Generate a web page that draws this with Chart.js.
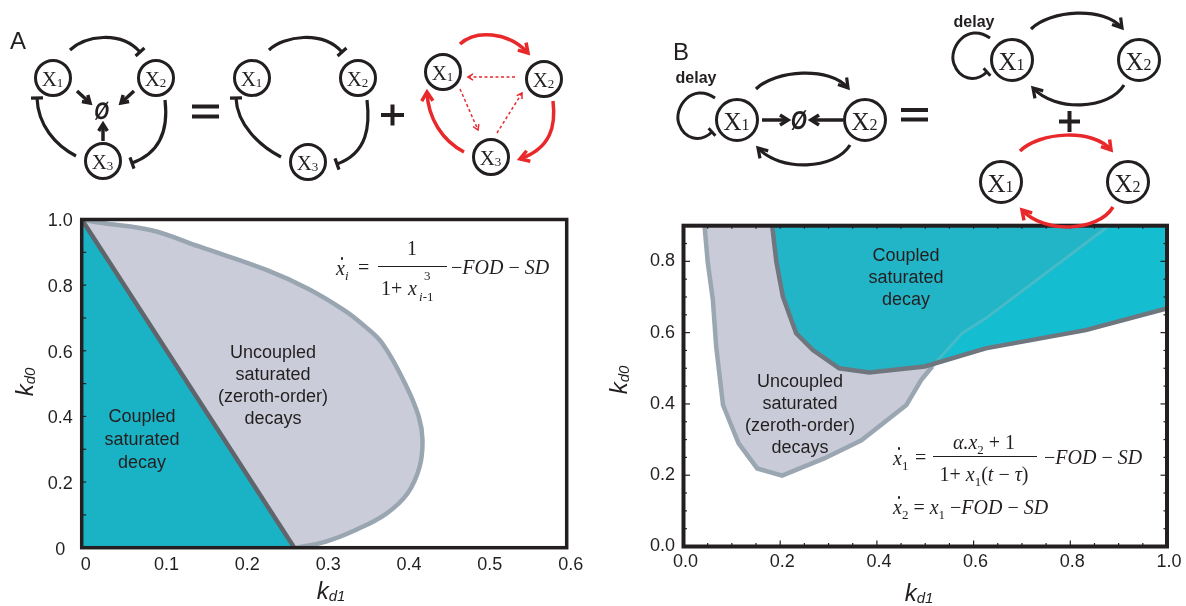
<!DOCTYPE html>
<html><head><meta charset="utf-8">
<script src="https://cdn.jsdelivr.net/npm/chart.js@4.4.1/dist/chart.umd.min.js"></script>
<style>
html,body{margin:0;padding:0;background:#fff;}
#wrap{position:relative;width:1186px;height:606px;overflow:hidden;background:#fff;}
canvas{position:absolute;left:0;top:0;}
.lbl{position:absolute;transform:translate(-50%,-50%);font-family:"Liberation Sans",Arial,sans-serif;font-size:18px;color:#231f20;text-align:center;white-space:nowrap;}
.ax{position:absolute;transform:translate(-50%,-50%);font-family:"Liberation Sans",Arial,sans-serif;font-style:italic;color:#231f20;white-space:nowrap;line-height:1;}
.ax .k{font-size:24px}
.ax .s{font-size:15px;position:relative;top:2px}
.m{position:absolute;font-family:"Liberation Serif","Times New Roman",serif;font-size:20px;color:#231f20;white-space:nowrap;transform:translateY(-50%);line-height:1}
.mc{transform:translate(-50%,-50%)}
.m i{font-style:italic}
.dx{position:relative;font-style:italic}
.dx::after{content:'';position:absolute;left:0.24em;top:0.02em;width:2.4px;height:2.4px;border-radius:50%;background:#231f20}
.sb{font-size:13px;position:relative;top:5px}
.bar{position:absolute;height:1.2px;background:#231f20}
#svg{position:absolute;left:0;top:0}
</style></head>
<body>
<div id="wrap">
<canvas id="cA" width="1186" height="606"></canvas>
<canvas id="cB" width="1186" height="606"></canvas>
<svg id="svg" width="1186" height="606"></svg>

<div class="lbl" style="left:142px;top:439px;line-height:23px">Coupled<br>saturated<br>decay</div>
<div class="lbl" style="left:273px;top:385px;line-height:22px">Uncoupled<br>saturated<br>(zeroth-order)<br>decays</div>
<div class="lbl" style="left:906px;top:277px;line-height:22px">Coupled<br>saturated<br>decay</div>
<div class="lbl" style="left:800px;top:414px;line-height:22px">Uncoupled<br>saturated<br>(zeroth-order)<br>decays</div>

<div class="ax" style="left:25px;top:382px;transform:translate(-50%,-50%) rotate(-90deg)"><span class="k">k</span><span class="s">d0</span></div>
<div class="ax" style="left:331px;top:591px"><span class="k">k</span><span class="s">d1</span></div>
<div class="ax" style="left:619px;top:380px;transform:translate(-50%,-50%) rotate(-90deg)"><span class="k">k</span><span class="s">d0</span></div>
<div class="ax" style="left:919px;top:593px"><span class="k">k</span><span class="s">d1</span></div>

<!-- equation A -->
<div class="m" style="left:336px;top:268px"><span class="dx">x</span><span class="sb"><i>i</i></span></div>
<div class="m" style="left:358px;top:267px">=</div>
<div class="m mc" style="left:412px;top:248px">1</div>
<div class="bar" style="left:378px;top:266px;width:69px"></div>
<div class="m" style="left:381px;top:288px">1+</div>
<div class="m" style="left:408px;top:288px"><i>x</i></div>
<div class="m" style="left:424px;top:275px;font-size:13px">3</div>
<div class="m" style="left:419px;top:296px;font-size:13px"><i>i</i>&#8209;1</div>
<div class="m" style="left:451px;top:267px">&minus;<i>FOD</i> &minus; <i>SD</i></div>

<!-- equation B -->
<div class="m" style="left:893px;top:458px"><span class="dx">x</span><span class="sb">1</span></div>
<div class="m" style="left:915px;top:457px">=</div>
<div class="m mc" style="left:984px;top:442px"><i>&alpha;.x</i><span class="sb">2</span> + 1</div>
<div class="bar" style="left:933px;top:456px;width:104px"></div>
<div class="m mc" style="left:984px;top:474px">1+ <i>x</i><span class="sb">1</span>(<i>t</i> &minus; <i>&tau;</i>)</div>
<div class="m" style="left:1044px;top:457px">&minus;<i>FOD</i> &minus; <i>SD</i></div>
<div class="m" style="left:893px;top:507px"><span class="dx">x</span><span class="sb">2</span> = <i>x</i><span class="sb">1</span> &minus;<i>FOD</i> &minus; <i>SD</i></div>
</div>

<script>
// ---------------- DATA ----------------
// Panel A: kd1 (x) vs kd0 (y)
const aTickK1 = [0, 0.1, 0.2, 0.3, 0.4, 0.5, 0.6];
const aTickK1Labels = ['0', '0.1', '0.2', '0.3', '0.4', '0.5', '0.6'];
const aTickK0 = [0, 0.2, 0.4, 0.6, 0.8, 1.0];
const aTickK0Labels = ['0', '0.2', '0.4', '0.6', '0.8', '1.0'];
const aMarkK0 = [0.1, 0.2, 0.3, 0.4, 0.5, 0.6, 0.7, 0.8, 0.9];
// uncoupled (zeroth-order) region outer boundary
const aLavK1 = [0, 0.023, 0.085, 0.146, 0.230, 0.280, 0.325, 0.350, 0.372, 0.400, 0.417, 0.4216, 0.418, 0.403, 0.377, 0.339, 0.301, 0.266];
const aLavK0 = [1.0, 0.990, 0.968, 0.917, 0.845, 0.789, 0.723, 0.675, 0.622, 0.500, 0.399, 0.328, 0.246, 0.165, 0.104, 0.054, 0.018, 0];
// coupled saturated region (triangle) and its boundary
const aCplK1 = [0, 0.263, 0];
const aCplK0 = [1.0, 0, 0];
const aDiagK1 = [0, 0.263];
const aDiagK0 = [1.0, 0];

// Panel B
const bTickK1 = [0, 0.2, 0.4, 0.6, 0.8, 1.0];
const bTickK1Labels = ['0.0', '0.2', '0.4', '0.6', '0.8', '1.0'];
const bTickK0 = [0, 0.2, 0.4, 0.6, 0.8];
const bTickK0Labels = ['0.0', '0.2', '0.4', '0.6', '0.8'];
const bMarkK1 = [0.05,0.1,0.15,0.2,0.25,0.3,0.35,0.4,0.45,0.5,0.55,0.6,0.65,0.7,0.75,0.8,0.85,0.9,0.95];
const bMarkK0 = [0.05,0.1,0.15,0.2,0.25,0.3,0.35,0.4,0.45,0.5,0.55,0.6,0.65,0.7,0.75,0.8,0.85];
const bMajorK1 = [0.2, 0.4, 0.6, 0.8];
const bMajorK0 = [0.2, 0.4, 0.6, 0.8];
const bMaxK1 = 1.0, bMaxK0 = 0.9;
// uncoupled region outer boundary
const bLavK1 = [0.0435, 0.050, 0.0607, 0.0676, 0.0817, 0.114, 0.1525, 0.204, 0.291, 0.368, 0.461, 0.4915, 0.5146];
const bLavK0 = [0.9, 0.799, 0.692, 0.561, 0.397, 0.2895, 0.219, 0.199, 0.247, 0.298, 0.397, 0.467, 0.505];
// continuation of the uncoupled boundary inside the coupled region
const bSepK1 = [0.5146, 0.576, 0.625, 0.88];
const bSepK0 = [0.505, 0.598, 0.640, 0.9];
// coupled region boundary
const bCplK1 = [0.1834, 0.192, 0.2055, 0.233, 0.2676, 0.322, 0.384, 0.499, 0.625, 0.832, 1.0];
const bCplK0 = [0.9, 0.799, 0.701, 0.598, 0.551, 0.500, 0.488, 0.505, 0.556, 0.607, 0.668];

// ---------------- HELPERS ----------------
const pts = (xs, ys) => xs.map((v, i) => ({x: v, y: ys[i]}));
const INK = '#231f20';
const FONT = "'Liberation Sans', Arial, sans-serif";
const NONE = 'rgba(0,0,0,0)';

const frameTicks = {
  id: 'frameTicks',
  afterDatasetsDraw(chart, args, o) {
    const {ctx, chartArea: a, scales: {x, y}} = chart;
    ctx.save();
    ctx.strokeStyle = INK;
    ctx.lineWidth = 1.2;
    const seg = (x1, y1, x2, y2) => { ctx.beginPath(); ctx.moveTo(x1, y1); ctx.lineTo(x2, y2); ctx.stroke(); };
    (o.left || []).forEach(t => { const p = y.getPixelForValue(t[0]); seg(a.left, p, a.left + t[1], p); });
    (o.right || []).forEach(t => { const p = y.getPixelForValue(t[0]); seg(a.right, p, a.right - t[1], p); });
    (o.bottom || []).forEach(t => { const p = x.getPixelForValue(t[0]); seg(p, a.bottom, p, a.bottom - t[1]); });
    (o.top || []).forEach(t => { const p = x.getPixelForValue(t[0]); seg(p, a.top, p, a.top + t[1]); });
    ctx.lineWidth = o.frame;
    ctx.strokeRect(a.left, a.top, a.right - a.left, a.bottom - a.top);
    ctx.restore();
  }
};

function axis(min, max, vals, labels, tickOpts, extra) {
  return Object.assign({
    type: 'linear', min, max,
    afterBuildTicks: s => { s.ticks = vals.map(v => ({value: v})); },
    grid: {display: false, drawTicks: false, tickLength: 0}, border: {display: false},
    ticks: Object.assign({color: INK, font: {family: FONT, size: 18}, callback: (v, i) => labels[i]}, tickOpts)
  }, extra);
}
function ds(data, o) {
  return Object.assign({data, pointRadius: 0, tension: 0, clip: 0, fill: false, borderColor: NONE, backgroundColor: NONE, borderWidth: 1}, o);
}
const base = {responsive: false, animation: false, events: []};

// ---------------- CHART A ----------------
new Chart(document.getElementById('cA'), {
  type: 'line',
  data: {datasets: [
    ds(pts(aDiagK1, aDiagK0), {borderColor: '#5f656b', borderWidth: 4.5}),
    ds(pts(aLavK1, aLavK0), {borderColor: '#99a5b1', borderWidth: 4.5, tension: 0.4}),
    ds(pts(aCplK1, aCplK0), {fill: 'shape', backgroundColor: '#1ab3c5'}),
    ds(pts(aLavK1, aLavK0), {fill: 'shape', backgroundColor: '#cacdd9', tension: 0.4})
  ]},
  options: Object.assign({}, base, {
    layout: {padding: {left: 0, top: 219.5, right: 619.3, bottom: 0}},
    plugins: {legend: {display: false}, tooltip: {enabled: false},
      frameTicks: {frame: 3.5, left: aMarkK0.map(v => [v, 4.5])}},
    scales: {
      x: axis(0, 0.6, aTickK1, aTickK1Labels, {padding: 7, labelOffset: 4}, {afterFit: s => { s.height = 58.3; }}),
      y: axis(0, 1.0, aTickK0, aTickK0Labels, {padding: 9, crossAlign: 'center', labelOffset: 2}, {afterFit: s => { s.width = 81.7; }})
    }
  }),
  plugins: [frameTicks]
});

// ---------------- CHART B ----------------
const bMarksX = bMarkK1.map(v => [v, bMajorK1.includes(v) ? 6 : 3.5]);
const bMarksY = bMarkK0.map(v => [v, bMajorK0.includes(v) ? 6.5 : 3.5]);
new Chart(document.getElementById('cB'), {
  type: 'line',
  data: {datasets: [
    ds(pts(bCplK1, bCplK0), {borderColor: '#6f767e', borderWidth: 4.5}),
    ds(pts(bLavK1, bLavK0), {borderColor: '#9aa6b1', borderWidth: 4.5}),
    ds(pts(bSepK1, bSepK0), {borderColor: '#46bac8', borderWidth: 3}),
    ds([...pts(bCplK1, bCplK0).slice(0, 8), ...pts(bSepK1, bSepK0)], {fill: 'shape', backgroundColor: '#22b5c7'}),
    ds([...pts(bCplK1, bCplK0), {x: bMaxK1, y: bMaxK0}], {fill: 'shape', backgroundColor: '#14bdd0'}),
    ds([...pts(bLavK1, bLavK0), ...pts(bSepK1, bSepK0).slice(1)], {fill: 'shape', backgroundColor: '#c9ccd8'})
  ]},
  options: Object.assign({}, base, {
    layout: {padding: {left: 600, top: 225.7, right: 19, bottom: 0}},
    plugins: {legend: {display: false}, tooltip: {enabled: false},
      frameTicks: {frame: 4, left: bMarksY, right: bMarksY, bottom: bMarksX, top: bMarkK1.map(v => [v, 3])}},
    scales: {
      x: axis(0, bMaxK1, bTickK1, bTickK1Labels, {padding: 5, labelOffset: 2}, {afterFit: s => { s.height = 59.5; }}),
      y: axis(0, bMaxK0, bTickK0, bTickK0Labels, {padding: 8.5}, {afterFit: s => { s.width = 83.5; }})
    }
  }),
  plugins: [frameTicks]
});

// ---------------- NETWORK DIAGRAMS (SVG) ----------------
const S = [];
const RED = '#e8282b';
const add = (p, q) => [p[0] + q[0], p[1] + q[1]];
function head(p, t, type, col, w, s) {
  const L = Math.hypot(t[0], t[1]), ux = t[0] / L, uy = t[1] / L, px = -uy, py = ux;
  if (type === 'arrow') {
    const a = [p[0] - ux * s + px * s * 0.62, p[1] - uy * s + py * s * 0.62];
    const b = [p[0] - ux * s - px * s * 0.62, p[1] - uy * s - py * s * 0.62];
    S.push(`<path d="M${a} L${p} L${b}" fill="none" stroke="${col}" stroke-width="${w}" stroke-linejoin="miter" stroke-miterlimit="8"/>`);
  } else if (type === 'bar') {
    S.push(`<line x1="${p[0] + px * s}" y1="${p[1] + py * s}" x2="${p[0] - px * s}" y2="${p[1] - py * s}" stroke="${col}" stroke-width="${w}"/>`);
  }
}
function cub(a, b, c, d, type, col, w, s, dash) {
  S.push(`<path d="M${a} C${b} ${c} ${d}" fill="none" stroke="${col}" stroke-width="${w}" ${dash ? `stroke-dasharray="${dash}"` : ''}/>`);
  head(d, [d[0] - c[0], d[1] - c[1]], type, col, w, s);
}
function lin(a, b, type, col, w, s, dash) {
  S.push(`<line x1="${a[0]}" y1="${a[1]}" x2="${b[0]}" y2="${b[1]}" stroke="${col}" stroke-width="${w}" ${dash ? `stroke-dasharray="${dash}"` : ''}/>`);
  head(b, [b[0] - a[0], b[1] - a[1]], type, col, w, s);
}
function node(c, n, r, fs) {
  S.push(`<circle cx="${c[0]}" cy="${c[1]}" r="${r}" fill="#fff" stroke="${INK}" stroke-width="3"/>`);
  S.push(`<text x="${c[0] - 0.5}" y="${c[1] + 1}" font-family="Liberation Serif, Times New Roman, serif" font-size="${fs}" fill="${INK}" text-anchor="middle" dominant-baseline="central">X<tspan font-size="${Math.round(fs * 0.62)}" dy="${fs * 0.12}">${n}</tspan></text>`);
}
function txt(x, y, s, size, weight, extra) {
  S.push(`<text x="${x}" y="${y}" font-family="Liberation Sans, Arial, sans-serif" font-size="${size}" font-weight="${weight || 'normal'}" fill="${INK}" text-anchor="middle" dominant-baseline="central" ${extra || ''}>${s}</text>`);
}
const rect = (x, y, w, h) => S.push(`<rect x="${x}" y="${y}" width="${w}" height="${h}" fill="${INK}"/>`);
const empty = (x, y, size) => txt(0, 0, '&#216;', size, 'bold', `transform="translate(${x},${y}) scale(0.8,1) skewX(-8)"`);

// three-node ring
function ring(X1, X2, X3, col, type, hs) {
  const w = col === RED ? 3.5 : 3.2;
  cub(add(X1, [17, -28]), add(X1, [32, -42]), add(X2, [-36, -48]), add(X2, [-16, -26]), type, col, w, hs);
  cub(add(X2, [9, 22]), add(X2, [12, 47]), add(X3, [60, -9]), add(X3, [29, 2]), type, col, w, hs);
  cub(add(X3, [-27, -5]), add(X3, [-48, -16]), add(X1, [-15, 47]), add(X1, [-16, 20]), type, col, w, hs);
}
// A1
const A1 = [[53, 78], [156, 78], [103, 161]];
ring(A1[0], A1[1], A1[2], INK, 'bar', 6);
lin([77, 91], [90, 103], 'arrow', INK, 3.5, 7);
lin([134, 91], [121, 103], 'arrow', INK, 3.5, 7);
lin([103, 141], [103, 124], 'arrow', INK, 3.5, 7);
empty(102, 111, 24);
A1.forEach((c, i) => node(c, i + 1, 17.5, 21));
rect(192, 104.5, 27, 4); rect(192, 114.5, 27, 4);
// A2
const A2 = [[252, 78], [358, 78], [308, 162]];
ring(A2[0], A2[1], A2[2], INK, 'bar', 6);
A2.forEach((c, i) => node(c, i + 1, 17.5, 21));
rect(381, 113, 23, 4); rect(390.5, 104.5, 4, 21);
// A3 (red)
const A3 = [[443, 72], [544, 79], [491, 157]];
ring(A3[0], A3[1], A3[2], RED, 'arrow', 9);
lin([515, 77], [468, 77], 'arrow', RED, 1.5, 5, '3,2.5');
lin([460, 89], [478, 130], 'arrow', RED, 1.5, 5, '3,2.5');
lin([497, 133], [522, 93], 'arrow', RED, 1.5, 5, '3,2.5');
A3.forEach((c, i) => node(c, i + 1, 17.5, 21));
txt(18, 40, 'A', 24);

// B diagrams
function pair(X1, X2, col) {
  const w = col === RED ? 3.5 : 3.2;
  cub(add(X1, [19, -31]), add(X1, [38, -50]), add(X2, [-35, -54]), add(X2, [-17, -32]), 'arrow', col, w, 9);
  cub(add(X2, [-15, 25]), add(X2, [-30, 50]), add(X1, [43, 52]), add(X1, [21, 28]), 'arrow', col, w, 9);
}
function delayLoop(X1) {
  const a = add(X1, [-22, -22]);
  S.push(`<path d="M${a} C${add(X1, [-45, -38])} ${add(X1, [-64, -12])} ${add(X1, [-58, 4])} C${add(X1, [-53, 18])} ${add(X1, [-38, 24])} ${add(X1, [-25, 12])}" fill="none" stroke="${INK}" stroke-width="3"/>`);
  head(add(X1, [-25, 12]), [13, -12], 'bar', INK, 3, 5);
}
const B1 = [[737, 120], [865, 120]];
delayLoop(B1[0]);
pair(B1[0], B1[1], INK);
lin([762, 120], [788, 120], 'arrow', INK, 3.5, 8);
lin([843, 120], [811, 120], 'arrow', INK, 3.5, 8);
empty(799, 120, 26);
B1.forEach((c, i) => node(c, i + 1, 20.5, 25));
txt(696, 77, 'delay', 16, 'bold');
txt(681, 51, 'B', 24);
rect(901, 108, 27, 4); rect(901, 117.5, 27, 4);
const B2 = [[1012, 60], [1139, 60]];
delayLoop(B2[0]);
pair(B2[0], B2[1], INK);
B2.forEach((c, i) => node(c, i + 1, 20.5, 25));
txt(974, 21, 'delay', 16, 'bold');
rect(1059, 119.5, 21, 4); rect(1067.5, 111, 4, 21);
const B3 = [[1001, 182], [1128, 182]];
pair(B3[0], B3[1], RED);
B3.forEach((c, i) => node(c, i + 1, 20.5, 25));

document.getElementById('svg').innerHTML = S.join('');
</script>
</body></html>
